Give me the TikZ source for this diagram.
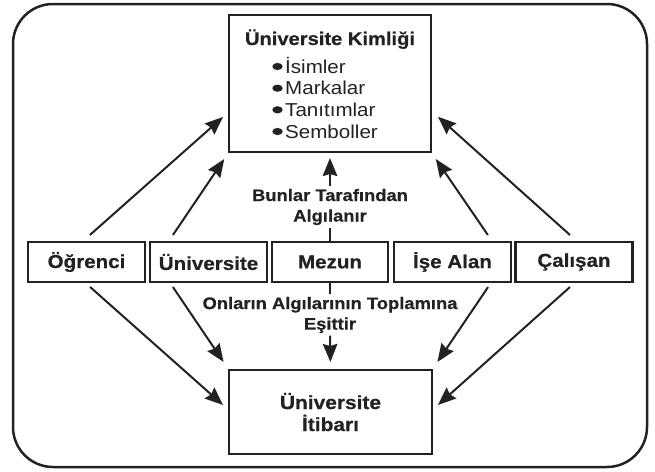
\documentclass[tikz,border=0pt]{standalone}
\usepackage{fontspec}
\setmainfont{Liberation Sans}[FakeStretch=1.1, BoldFeatures={FakeBold=0.6}]
\usetikzlibrary{arrows.meta}
\definecolor{ink}{HTML}{222222}
\begin{document}
\begin{tikzpicture}[x=1pt,y=-1pt,
  frame/.style={draw=ink, line width=2.5pt, rounded corners=40pt},
  bigbox/.style={draw=ink, line width=2.4pt, inner sep=0pt, outer sep=0pt, text=ink,
    align=center, font=\fontsize{19}{22}\selectfont\bfseries},
  rolebox/.style={draw=ink, line width=2.4pt, inner sep=0pt, outer sep=0pt, text=ink,
    minimum width=117pt, minimum height=40pt, font=\fontsize{18.7}{21}\selectfont\bfseries},
  titletext/.style={inner sep=0pt, anchor=base, text=ink, font=\fontsize{18.3}{21}\selectfont\bfseries},
  itemtext/.style={inner sep=0pt, anchor=base west, text=ink, font=\fontsize{18.7}{21}\selectfont},
  bulletdot/.style={fill=ink},
  midlab/.style={inner xsep=2pt, inner ysep=2.5pt, align=center, text=ink,
    font=\fontsize{16.7}{20.5}\selectfont\bfseries},
  conn/.style={draw=ink, line width=2pt},
  arr/.style={draw=ink, line width=2pt, -{Stealth[length=18pt,width=14.5pt,inset=2pt]}}
]
\useasboundingbox (0,0) rectangle (655,471);
\draw[frame] (13,4) rectangle (647,467);

% boxes
\node[bigbox, minimum width=202pt, minimum height=137pt] (kim) at (330,83.5) {};
\node[bigbox, minimum width=203pt, minimum height=84pt] (itb) at (330.5,412) {Üniversite\\İtibarı};

\node[rolebox] (ogr) at (86.5,262) {Öğrenci};
\node[rolebox] (uni) at (208.5,262) {Üniversite};
\node[rolebox, minimum width=116pt] (mez) at (330,262) {Mezun};
\node[rolebox] (ise) at (452.5,262) {İşe Alan};
\node[rolebox] (cal) at (574,262) {Çalışan};

% top box content
\node[titletext] (kimt) at (330,45) {Üniversite Kimliği};
\node[itemtext] (i1) at (285,73) {İsimler};
\node[itemtext] (i2) at (285,94.7) {Markalar};
\node[itemtext] (i3) at (285,116.3) {Tanıtımlar};
\node[itemtext] (i4) at (285,138) {Semboller};
\foreach \n in {i1,i2,i3,i4}
  \fill[bulletdot] ([xshift=-7.5pt,yshift=6.5pt]\n.base west) ellipse [x radius=5.2pt, y radius=3.6pt];

% middle labels
\node[midlab] (lab1) at (330,207) {Bunlar Tarafından\\Algılanır};
\node[midlab] (lab2) at (330,315) {Onların Algılarının Toplamına\\Eşittir};

\draw[conn] (mez.north) -- (lab1.south);
\draw[arr, shorten >=6pt] (lab1.north) -- (kim.south);
\draw[conn] (mez.south) -- (lab2.north);
\draw[arr, shorten >=8pt] (lab2.south) -- (itb.north);

% upward arrows
\draw[arr, shorten <=10.6pt, shorten >=8pt] ([xshift=-4.5pt]ogr.north) -- ([yshift=-28.2pt]kim.west);
\draw[arr, shorten <=8.5pt, shorten >=8.5pt] ([xshift=-40.3pt]uni.north) -- (kim.south west);
\draw[arr, shorten <=8.5pt, shorten >=8.5pt] ([xshift=40.2pt]ise.north) -- (kim.south east);
\draw[arr, shorten <=10.5pt, shorten >=9.4pt] ([xshift=3.8pt]cal.north) -- ([yshift=-27pt]kim.east);

% downward arrows
\draw[arr, shorten <=7.5pt, shorten >=8pt] ([xshift=-2pt]ogr.south) -- ([yshift=1.7pt]itb.west);
\draw[arr, shorten <=6.1pt, shorten >=9.7pt] ([xshift=-39pt]uni.south) -- (itb.north west);
\draw[arr, shorten <=6.1pt, shorten >=9.7pt] ([xshift=39pt]ise.south) -- (itb.north east);
\draw[arr, shorten <=7.5pt, shorten >=8pt] ([xshift=1.6pt]cal.south) -- ([yshift=1.7pt]itb.east);
\end{tikzpicture}
\end{document}
